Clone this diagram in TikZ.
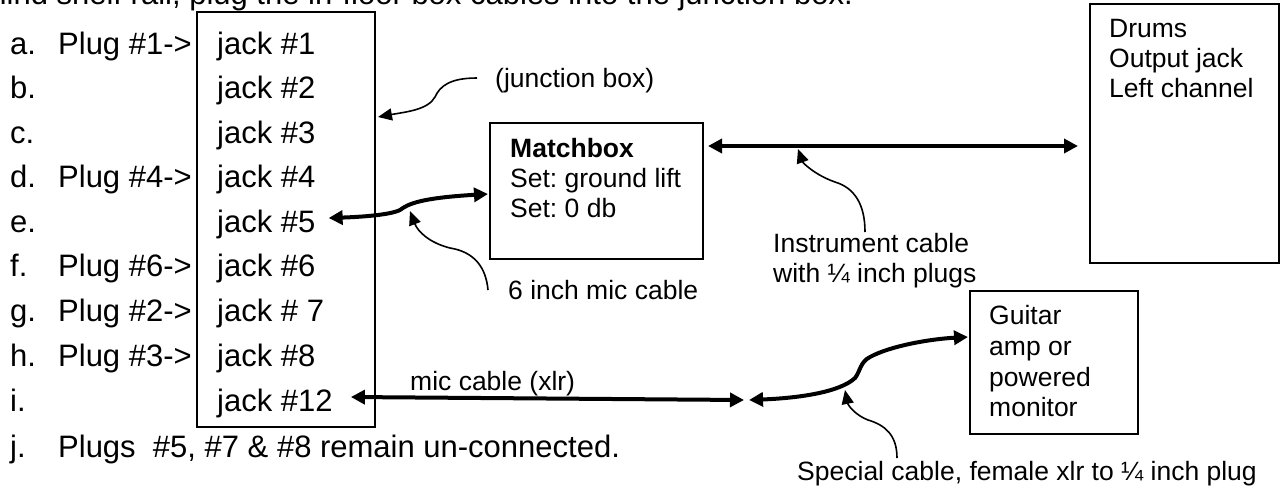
\documentclass[tikz,border=0pt]{standalone}
\usepackage{fontspec}
\setmainfont{Liberation Sans}
\usetikzlibrary{arrows.meta,calc}
\newcommand\fbig{\fontsize{31}{36}\selectfont}
\newcommand\fsml{\fontsize{26.5}{30}\selectfont}
\frenchspacing
\tikzset{
  bigtxt/.style={anchor=base west, inner sep=0pt, font=\fbig},
  smltxt/.style={anchor=base west, inner sep=0pt, font=\fsml},
  boxed/.style={draw, line width=2pt, anchor=north west, inner sep=0pt},
  cable/.style={line width=4pt, {Triangle[length=14pt,width=14pt]}-{Triangle[length=14pt,width=14pt]}},
  pointer/.style={line width=1.6pt, -{Triangle[length=14pt,width=12pt]}}
}
\begin{document}
\begin{tikzpicture}[x=1pt,y=-1pt]
\useasboundingbox (0,0) rectangle (1285,499);
\clip (0,0) rectangle (1285,499);

% cut-off heading line
\node[bigtxt, anchor=base east] (head) at (853,4) {hind shelf rail, plug the in-floor box cables into the junction box.};

% junction box
\node[boxed, minimum width=178pt, minimum height=415pt] (jbox) at (196,11) {};
\node[bigtxt] (j1) at (217,54) {jack \#1};
\node[bigtxt] (j2) at (217,98) {jack \#2};
\node[bigtxt] (j3) at (217,143) {jack \#3};
\node[bigtxt] (j4) at (217,187) {jack \#4};
\node[bigtxt] (j5) at (217,232) {jack \#5};
\node[bigtxt] (j6) at (217,276) {jack \#6};
\node[bigtxt] (j7) at (217,321) {jack \# 7};
\node[bigtxt] (j8) at (217,366) {jack \#8};
\node[bigtxt] (j12) at (217,411) {jack \#12};

% list
\node[bigtxt] (la) at (10,54) {a.};
\node[bigtxt] (lb) at (10,98) {b.};
\node[bigtxt] (lc) at (10,143) {c.};
\node[bigtxt] (ld) at (10,187) {d.};
\node[bigtxt] (le) at (10,232) {e.};
\node[bigtxt] (lf) at (10,276) {f.};
\node[bigtxt] (lg) at (10,321) {g.};
\node[bigtxt] (lh) at (10,366) {h.};
\node[bigtxt] (li) at (10,411) {i.};
\node[bigtxt] (lj) at (10,457) {j.};
\node[bigtxt] (pa) at (58,54) {Plug \#1->};
\node[bigtxt] (pd) at (58,187) {Plug \#4->};
\node[bigtxt] (pf) at (58,276) {Plug \#6->};
\node[bigtxt] (pg) at (58,321) {Plug \#2->};
\node[bigtxt] (ph) at (58,366) {Plug \#3->};
\node[bigtxt] (pj) at (58,457) {Plugs~ \#5, \#7 \& \#8 remain un-connected.};

% matchbox
\node[boxed, minimum width=213pt, minimum height=136pt] (match) at (489,122) {};
\node[smltxt] (m1) at (510,157) {\textbf{Matchbox}};
\node[smltxt] (m2) at (510,187) {Set: ground lift};
\node[smltxt] (m3) at (510,217) {Set: 0 db};

% drums
\node[boxed, minimum width=189pt, minimum height=259pt] (drums) at (1089,3) {};
\node[smltxt] (d1) at (1109,37) {Drums};
\node[smltxt] (d2) at (1109,67) {Output jack};
\node[smltxt] (d3) at (1109,97) {Left channel};

% guitar
\node[boxed, minimum width=168pt, minimum height=143pt] (guitar) at (969,290) {};
\node[smltxt] (g1) at (989,324) {Guitar};
\node[smltxt] (g2) at (989,355) {amp or};
\node[smltxt] (g3) at (989,386) {powered};
\node[smltxt] (g4) at (989,416) {monitor};

% labels
\node[smltxt] (jlbl) at (495,87) {(junction box)};
\node[smltxt] (sixlbl) at (508,299) {6 inch mic cable};
\node[smltxt] (ins1) at (773,252) {Instrument cable};
\node[smltxt] (ins2) at (773,282) {with \char"00BC{} inch plugs};
\node[smltxt] (xlrlbl) at (410,390) {mic cable (xlr)};
\node[smltxt, anchor=base east] (splbl) at (1257,480) {Special cable, female xlr to \char"00BC{} inch plug};

% coordinates
\coordinate (junc1) at (744,400);
\coordinate (junc2) at (749,400);
\coordinate (jptr) at (477,78);
\coordinate (sixptr) at (488,290);
\coordinate (sixtip) at (410,211);
\coordinate (insptr) at (865,232);
\coordinate (instip) at (798,149);
\coordinate (spptr) at (897,458);
\coordinate (sptip) at (845,390);

% cables
\draw[cable] ($(match.north east)+(4,24)$) -- ($(drums.north west)+(-11,143)$);
\draw[cable] ($(j5.base east)+(13,-14)$) .. controls (360,217) and (390,215) .. (400,210)
   .. controls (408,204) and (420,198) .. ($(match.north west)+(-1,72)$);
\draw[cable] ($(j12.base east)+(18,-14)$) -- (junc1);
\draw[cable] (junc2) .. controls (800,398) and (840,392) .. (855,378)
   .. controls (860,372) and (860,362) .. (870,357)
   .. controls (890,346) and (930,339) .. ($(guitar.north west)+(-1,47)$);

% pointers
\draw[pointer] (jptr) .. controls (450,78) and (440,86) .. (435,97)
   .. controls (428,110) and (405,112) .. ($(jbox.north east)+(2,106)$);
\draw[pointer] (sixptr) .. controls (486,268) and (475,252) .. (450,248)
   .. controls (430,243) and (418,232) .. (sixtip);
\draw[pointer] (insptr) .. controls (865,205) and (855,188) .. (835,182)
   .. controls (815,175) and (803,163) .. (instip);
\draw[pointer] (spptr) .. controls (897,435) and (885,425) .. (868,420)
   .. controls (855,415) and (848,405) .. (sptip);
\end{tikzpicture}
\end{document}
